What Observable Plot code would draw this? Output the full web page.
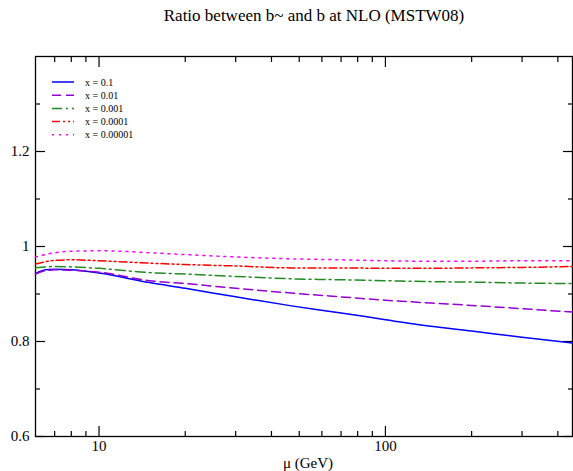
<!DOCTYPE html>
<html><head><meta charset="utf-8">
<script src="https://cdn.jsdelivr.net/npm/d3@7"></script>
<script src="https://cdn.jsdelivr.net/npm/@observablehq/plot@0.6"></script>
<style>body{margin:0;background:#fff}</style>
</head><body><div id="chart"></div>
<script>
const mu = [6, 6.5, 7, 8, 10, 15, 20, 30, 47, 70, 100, 144, 200, 300, 450];
const ratioX1e1 = [0.943, 0.951, 0.952, 0.951, 0.944, 0.924, 0.912, 0.894, 0.875, 0.860, 0.846, 0.832, 0.822, 0.809, 0.797];
const ratioX1e2 = [0.942, 0.949, 0.951, 0.950, 0.946, 0.928, 0.922, 0.912, 0.902, 0.894, 0.887, 0.881, 0.876, 0.869, 0.862];
const ratioX1e3 = [0.955, 0.957, 0.958, 0.957, 0.954, 0.945, 0.942, 0.937, 0.932, 0.930, 0.928, 0.926, 0.925, 0.923, 0.922];
const ratioX1e4 = [0.963, 0.968, 0.971, 0.972, 0.970, 0.965, 0.962, 0.959, 0.955, 0.955, 0.954, 0.954, 0.955, 0.956, 0.958];
const ratioX1e5 = [0.978, 0.983, 0.987, 0.990, 0.991, 0.987, 0.983, 0.978, 0.974, 0.972, 0.970, 0.969, 0.969, 0.970, 0.970];
const seriesNames = ["x = 0.1", "x = 0.01", "x = 0.001", "x = 0.0001", "x = 0.00001"];
const seriesValues = [ratioX1e1, ratioX1e2, ratioX1e3, ratioX1e4, ratioX1e5];
const seriesColors = ["#0000ff", "#9400d3", "#228b22", "#ff0000", "#ff00ff"];
const seriesDash = [null, "9,5", "10,4,2,4", "8,3,2,3,2,3", "2,5"];
const xMajor = [10, 100];
const xMinor = [7, 8, 9, 20, 30, 40, 50, 60, 70, 80, 90, 200, 300, 400];
const yMajor = [0.6, 0.8, 1.0, 1.2];
const yMinor = [0.7, 0.9, 1.1, 1.3];
const title = "Ratio between b~ and b at NLO (MSTW08)";
const xLabel = "μ (GeV)";

const W = 573, H = 471, ML = 35, MR = 1, MT = 56, MB = 35;
const fmt = d => String(+d.toFixed(2));
const none = () => "";

const marks = [Plot.frame({stroke: "black", strokeWidth: 1.3})];
for (const anchor of ["bottom", "top"]) {
  marks.push(Plot.axisX(xMajor, {anchor, tickSize: -10, tickPadding: 14, tickFormat: anchor === "bottom" ? fmt : none, fontSize: 15, label: null, strokeWidth: 1.2}));
  marks.push(Plot.axisX(xMinor, {anchor, tickSize: -5, tickFormat: none, label: null, strokeWidth: 1.2}));
}
for (const anchor of ["left", "right"]) {
  marks.push(Plot.axisY(yMajor, {anchor, tickSize: -10, tickPadding: 16, tickFormat: anchor === "left" ? fmt : none, fontSize: 15, label: null, strokeWidth: 1.2}));
  marks.push(Plot.axisY(yMinor, {anchor, tickSize: -5, tickFormat: none, label: null, strokeWidth: 1.2}));
}
seriesValues.forEach((vals, i) => {
  const rows = mu.map((m, j) => ({mu: m, ratio: vals[j]}));
  marks.push(Plot.line(rows, {x: "mu", y: "ratio", stroke: seriesColors[i], strokeWidth: 1.5,
    strokeDasharray: seriesDash[i] || undefined, curve: "monotone-x"}));
});
marks.push(Plot.text([title], {frameAnchor: "top", dx: 10, dy: -36, lineAnchor: "bottom", fontSize: 17}));
marks.push(Plot.text([xLabel], {frameAnchor: "bottom", dx: 4, dy: 31, lineAnchor: "bottom", fontSize: 15}));

const chart = Plot.plot({
  width: W, height: H,
  marginLeft: ML, marginRight: MR, marginTop: MT, marginBottom: MB,
  style: {fontFamily: "'Liberation Serif', 'Times New Roman', serif", fontSize: "15px", background: "#fff", color: "black", overflow: "visible"},
  x: {type: "log", domain: [6, 450], label: null},
  y: {domain: [0.6, 1.4], label: null},
  marks
});
document.getElementById("chart").appendChild(chart);

// legend
const svg = d3.select(chart);
const lg = svg.append("g").attr("font-family", "'Liberation Serif', serif").attr("font-size", 10).attr("text-anchor", "start");
seriesNames.forEach((name, i) => {
  const cy = MT + 26 + i * 13.2;
  lg.append("line").attr("x1", ML + 17).attr("x2", ML + 39).attr("y1", cy).attr("y2", cy)
    .attr("stroke", seriesColors[i]).attr("stroke-width", 1.5)
    .attr("stroke-dasharray", seriesDash[i]);
  lg.append("text").attr("x", ML + 50).attr("y", cy + 3.5).attr("fill", "black").attr("text-anchor", "start").text(name);
});
</script></body></html>
